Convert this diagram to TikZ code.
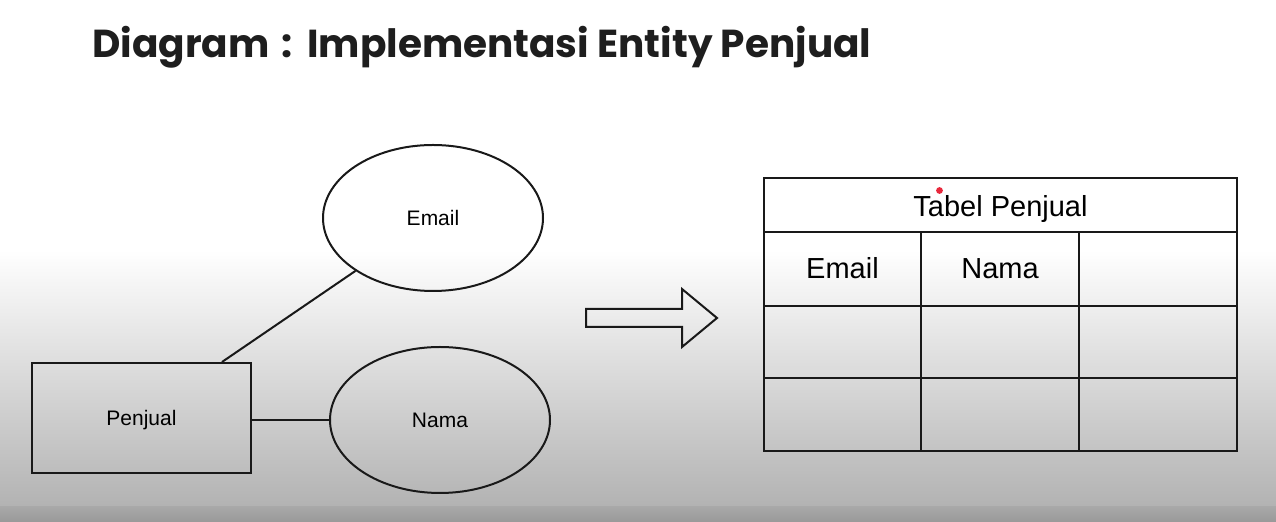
\documentclass[tikz,border=0pt]{standalone}
\usepackage{fontspec}
\setmainfont{Liberation Sans}
\newfontfamily\titlefont{Poppins}
\usetikzlibrary{shapes.geometric}

\definecolor{ink}{HTML}{1E1E1E}
\definecolor{dotred}{HTML}{E8283C}

\tikzset{
  line/.style={draw=black!90, line width=1pt},
  attr/.style={line, ellipse, minimum width=110pt, minimum height=73pt, inner sep=0pt,
    font=\fontsize{10.5pt}{12pt}\selectfont},
  entity/.style={line, rectangle, minimum width=109.5pt, minimum height=55pt, text depth=0pt,
    font=\fontsize{10.5pt}{12pt}\selectfont},
  celltext/.style={anchor=base, inner sep=0pt, font=\fontsize{14.5pt}{17pt}\selectfont}
}

\begin{document}
\begin{tikzpicture}[x=0.5pt, y=-0.5pt]
\useasboundingbox (0,0) rectangle (1276,522);
\fill [white] (0,0) rectangle (1276,522);
\shade [top color=white, bottom color=gray!60!white] (0,250) rectangle (1276,507);
\shade [top color=black!34, bottom color=black!40] (0,507) rectangle (1276,522);

\node [anchor=base west, inner sep=0pt, text=ink,
  font=\titlefont\bfseries\fontsize{19.5pt}{23pt}\selectfont] (title) at (92,58)
  {Diagram\hspace{1.8pt} : \hspace{1.8pt}Implementasi Entity Penjual};

% entity and its attributes
\node [entity] (pj) at (141.5,418) {Penjual};
\node [attr] (email) at (433,218) {Email};
\node [attr] (nama) at (440,420) {Nama};
\draw [line] ([xshift=-15pt]pj.north east) -- (email);
\draw [line] (pj.east |- nama.west) -- (nama.west);

% arrow
\draw [line] (586,309) -- (682,309) -- (682,289) -- (717,318) -- (682,347)
  -- (682,327) -- (586,327) -- cycle;

% table
\draw [line, line width=1.2pt] (764,178) rectangle (1237,451);
\draw [line, line width=1.2pt] (764,232) -- (1237,232)
  (764,306) -- (1237,306)
  (764,378) -- (1237,378)
  (921,232) -- (921,451)
  (1079,232) -- (1079,451);
\node [celltext] (hdr) at (1000.5,217) {Tabel Penjual};
\node [celltext] (colemail) at (842.5,279) {Email};
\node [celltext] (colnama) at (1000,279) {Nama};
\fill [dotred] (939.5,190.5) circle [radius=1.7pt];
\end{tikzpicture}
\end{document}
